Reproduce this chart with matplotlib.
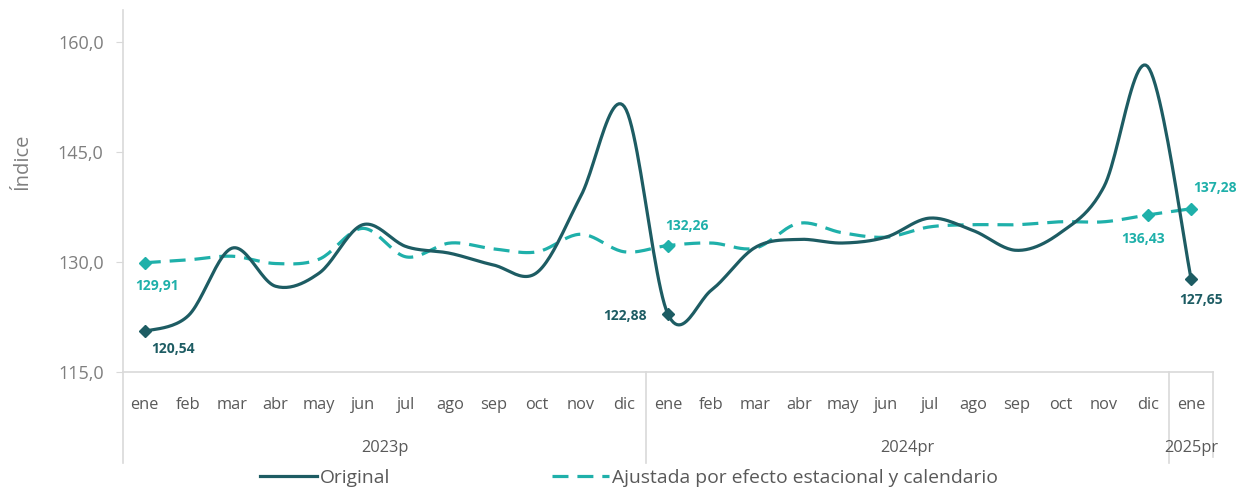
import numpy as np
import matplotlib
matplotlib.use("Agg")
import matplotlib.pyplot as plt
from matplotlib.lines import Line2D
import matplotlib.transforms as mtransforms

plt.rcParams['font.family'] = ['Open Sans', 'DejaVu Sans']

months = ["ene", "feb", "mar", "abr", "may", "jun", "jul", "ago", "sep", "oct", "nov", "dic"] * 2 + ["ene"]
years = ["2023p", "2024pr", "2025pr"]
year_span = [(0, 11), (12, 23), (24, 24)]

original = [120.54, 122.7, 131.9, 126.7, 128.5, 135.1, 132.1, 131.2, 129.6, 128.6, 139.0, 151.2,
            122.88, 126.2, 132.0, 133.1, 132.6, 133.4, 136.0, 134.3, 131.6, 134.0, 140.3, 156.7,
            127.65]
ajustada = [129.91, 130.3, 130.8, 129.8, 130.4, 134.6, 130.7, 132.6, 131.8, 131.4, 133.8, 131.4,
            132.26, 132.6, 131.9, 135.3, 134.0, 133.4, 134.8, 135.1, 135.1, 135.5, 135.5, 136.43,
            137.28]

# which points carry a marker + label
orig_marked = [0, 12, 24]
adj_marked = [0, 12, 23, 24]

C_ORIG = "#1d5c63"
C_ADJ = "#1fb0aa"
GRAY = "#595959"
LGRAY = "#d9d9d9"


def smooth(x, y, n=24):
    # excel-like smoothed line (bezier with catmull-rom control points)
    pts = np.column_stack([x, y]).astype(float)
    p = np.vstack([pts[0], pts, pts[-1]])
    t = np.linspace(0, 1, n, endpoint=False)[:, None]
    out = []
    for i in range(1, len(p) - 2):
        p0, p1, p2, p3 = p[i - 1], p[i], p[i + 1], p[i + 2]
        c1 = p1 + (p2 - p0) / 6
        c2 = p2 - (p3 - p1) / 6
        out.append((1 - t) ** 3 * p1 + 3 * (1 - t) ** 2 * t * c1 + 3 * (1 - t) * t ** 2 * c2 + t ** 3 * p2)
    out.append(pts[-1:])
    return np.vstack(out)


x = np.arange(len(months))

fig = plt.figure(figsize=(12.36, 4.9), dpi=100)
ax = fig.add_axes([123 / 1236, 1 - 372 / 490, 1090 / 1236, 362 / 490])

s = smooth(x, original)
ax.plot(s[:, 0], s[:, 1], color=C_ORIG, lw=2.3, solid_capstyle='round', zorder=3)
s = smooth(x, ajustada)
ax.plot(s[:, 0], s[:, 1], color=C_ADJ, lw=2.3, dashes=(5, 2.8), zorder=2)

ax.plot(x[orig_marked], [original[i] for i in orig_marked], 'D', color=C_ORIG, ms=6, zorder=4)
ax.plot(x[adj_marked], [ajustada[i] for i in adj_marked], 'D', color=C_ADJ, ms=6, zorder=4)

fmt = lambda v: f"{v:.2f}".replace(".", ",")
# label offsets in points
orig_off = {0: (20, -13), 12: (-31, -1), 24: (7, -15)}
adj_off = {0: (9, -17), 12: (14, 14), 23: (-3, -17), 24: (17, 15)}
for i, off in orig_off.items():
    ax.annotate(fmt(original[i]), (x[i], original[i]), xytext=off, textcoords='offset points',
                ha='center', va='center', fontsize=10, fontweight='bold', color=C_ORIG)
for i, off in adj_off.items():
    ax.annotate(fmt(ajustada[i]), (x[i], ajustada[i]), xytext=off, textcoords='offset points',
                ha='center', va='center', fontsize=10, fontweight='bold', color=C_ADJ)

ax.set_xlim(-0.5, len(months) - 0.5)
ax.set_ylim(115, 164.4)
ax.set_yticks([115, 130, 145, 160])
ax.set_yticklabels([f"{v:.1f}".replace(".", ",") for v in [115, 130, 145, 160]])
ax.tick_params(axis='y', length=5, color=LGRAY, pad=9, labelsize=13, labelcolor="#7f7f7f")
ax.set_xticks([])
for sp in ["top", "right", "left"]:
    ax.spines[sp].set_visible(False)
ax.spines["bottom"].set_color(LGRAY)
ax.spines["bottom"].set_linewidth(1.2)

# multi-level category axis
tr = mtransforms.blended_transform_factory(ax.transData, ax.transAxes)
for i, m in enumerate(months):
    ax.text(x[i], -0.092, m, transform=tr, ha='center', va='center', fontsize=11.8, color=GRAY)
for name, (a, b) in zip(years, year_span):
    ax.text((a + b) / 2, -0.21, name, transform=tr, ha='center', va='center', fontsize=11.8, color=GRAY)

ax.add_line(Line2D([-0.5, -0.5], [-0.25, 1.0], transform=tr, color=LGRAY, lw=1.2, clip_on=False))
ax.add_line(Line2D([11.5, 11.5], [-0.25, 0], transform=tr, color=LGRAY, lw=1.2, clip_on=False))
ax.add_line(Line2D([23.5, 23.5], [-0.25, 0], transform=tr, color=LGRAY, lw=1.2, clip_on=False))
ax.add_line(Line2D([24.5, 24.5], [-0.235, 0], transform=tr, color=LGRAY, lw=1.2, clip_on=False))

fig.text(22 / 1236, 1 - 162 / 490, "Índice", rotation=90, ha='center', va='center',
         fontsize=14.5, color="#7f7f7f")

handles = [Line2D([], [], color=C_ORIG, lw=2.3),
           Line2D([], [], color=C_ADJ, lw=2.3, dashes=(5, 2.8))]
fig.legend(handles, ["Original", "Ajustada por efecto estacional y calendario"],
           loc='center', bbox_to_anchor=(0.509, 1 - 478 / 490), ncol=2, frameon=False,
           fontsize=13.9, handlelength=2.95, handletextpad=0.15, columnspacing=8.4,
           borderpad=0, labelcolor=GRAY)

fig.savefig("out.png", dpi=100)
